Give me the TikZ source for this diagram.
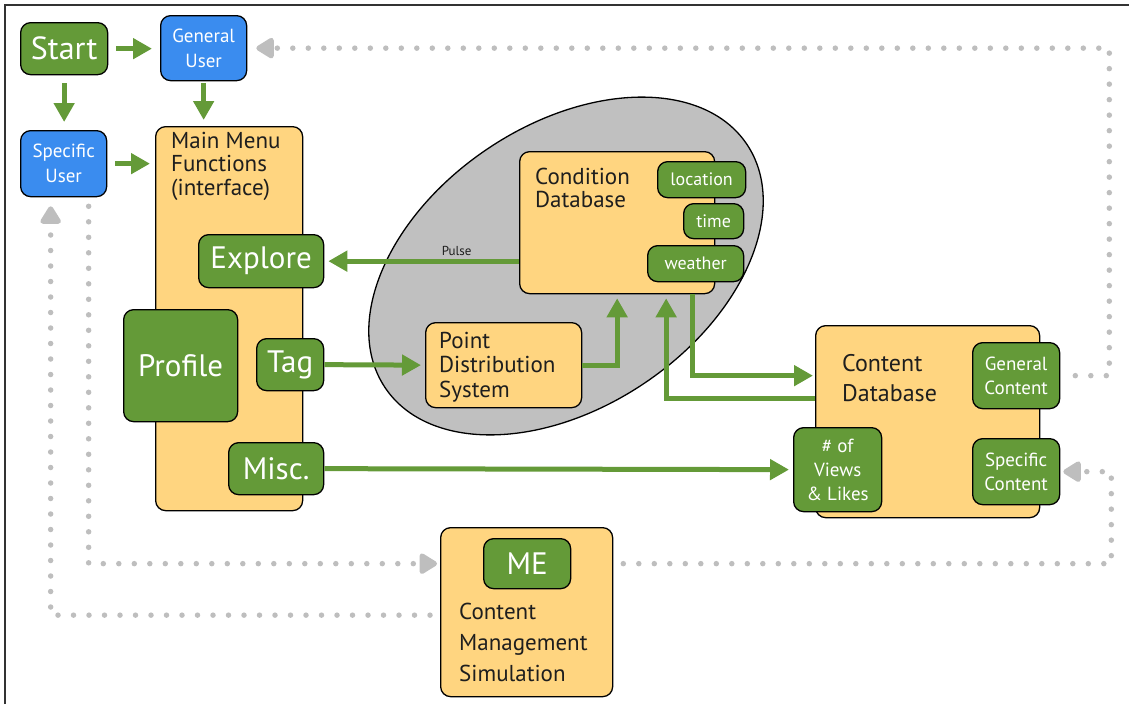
\documentclass[tikz,border=0pt]{standalone}
\usepackage{fontspec}
\setmainfont{PT Sans}
\usetikzlibrary{arrows.meta,shapes.geometric}
\definecolor{leaf}{HTML}{649A38}
\definecolor{sky}{HTML}{3A8CEF}
\definecolor{sand}{HTML}{FFD580}
\definecolor{stone}{HTML}{C0C0C0}
\definecolor{dotgray}{HTML}{BEBEBE}
\definecolor{ink}{HTML}{1E1E1E}
\newcommand\fs[2]{\fontsize{#1}{#2}\selectfont}

\begin{document}
\begin{tikzpicture}[x=1pt,y=-1pt,
    roundbox/.style={draw=black, line width=1.3pt, rounded corners=10pt, inner sep=0pt, anchor=north west},
    greenbox/.style={roundbox, fill=leaf, text=white, align=center},
    bluebox/.style={roundbox, fill=sky, text=white, align=center, font=\fs{19}{25}},
    sandbox/.style={roundbox, fill=sand},
    sandtext/.style={text=ink, inner sep=0pt, anchor=north west, align=left},
    flow/.style={draw=leaf, line width=5pt, shorten >=4pt, -{Triangle[width=20pt,length=19pt]}},
    dotline/.style={draw=dotgray, line width=5.5pt, line cap=round, dash pattern=on 0pt off 15.5pt,
      -{Triangle[width=23pt,length=20pt,round]}}]
  \useasboundingbox (0,0) rectangle (1129,704);
  \draw[black!80, line width=1.5pt] (5,704) -- (5,5) -- (1129,5);

  % nodes
  \node[greenbox, minimum width=87pt, minimum height=52pt, font=\fs{32}{34}] (start) at (20,22) {Start};
  \node[bluebox, minimum width=86pt, minimum height=65pt] (genuser) at (160,15) {General\\User};
  \node[bluebox, minimum width=86pt, minimum height=66pt] (specuser) at (20,130) {Specific\\User};

  \node[sandbox, minimum width=147pt, minimum height=384pt] (main) at (155,126) {};
  \node[sandtext, font=\fs{23}{23.5}] (mainlabel) at (171,132) {Main Menu\\Functions\\(interface)};
  \node[greenbox, minimum width=125pt, minimum height=53pt, font=\fs{31}{33}] (explore) at (198,234) {Explore};
  \node[greenbox, minimum width=114pt, minimum height=112pt, font=\fs{31}{33}] (profile) at (123,309) {Profile};
  \node[greenbox, minimum width=67pt, minimum height=52pt, font=\fs{31}{33}] (tag) at (256,338) {Tag};
  \node[greenbox, minimum width=95pt, minimum height=52pt, font=\fs{31}{33}] (misc) at (228,442) {Misc.};

  \node[ellipse, draw=black, line width=1.3pt, fill=stone, inner sep=0pt,
    minimum width=436pt, minimum height=282pt, rotate=34] (cloud) at (566,266) {};
  \node[sandbox, minimum width=195pt, minimum height=142pt] (cond) at (519,151) {};
  \node[sandtext, font=\fs{23}{23}] (condlabel) at (535,168) {Condition\\Database};
  \node[greenbox, minimum width=88pt, minimum height=36pt, font=\fs{18}{20}] (location) at (657,161) {location};
  \node[greenbox, minimum width=60pt, minimum height=35pt, font=\fs{18}{20}] (time) at (683,203) {time};
  \node[greenbox, minimum width=96pt, minimum height=36pt, font=\fs{18}{20}] (weather) at (647,245) {weather};
  \node[sandbox, minimum width=156pt, minimum height=85pt] (pds) at (425,322) {};
  \node[sandtext, font=\fs{23}{24.5}] (pdslabel) at (439,332) {Point\\Distribution\\System};

  \node[sandbox, minimum width=224pt, minimum height=192pt] (content) at (815,325) {};
  \node[sandtext, font=\fs{24}{30}] (contentlabel) at (842,354) {Content\\Database};
  \node[greenbox, minimum width=87pt, minimum height=66pt, font=\fs{19}{24}] (gencont) at (972,342) {General\\Content};
  \node[greenbox, minimum width=87pt, minimum height=66pt, font=\fs{19}{24}] (speccont) at (972,438) {Specific\\Content};
  \node[greenbox, minimum width=88pt, minimum height=84pt, font=\fs{19}{24}] (views) at (793,427) {\# of\\Views\\\& Likes};

  \node[sandbox, minimum width=172pt, minimum height=169pt] (cms) at (440,527) {};
  \node[greenbox, minimum width=87pt, minimum height=50pt, font=\fs{31}{33}] (me) at (483,538) {ME};
  \node[sandtext, font=\fs{23}{31}] (cmslabel) at (459,603) {Content\\Management\\Simulation};

  % dotted return paths
  \draw[dotline, shorten <=15pt, shorten >=9pt] (gencont.east) -- ++(49,0) |- (genuser.east);
  \draw[dotline, shorten <=10pt, shorten >=3pt] (cms.east |- me.east) -- ++(498,0) |- (speccont.east);
  \draw[dotline, shorten <=9pt, shorten >=3pt] ([xshift=25pt]specuser.south) |- (cms.west |- me.west);
  \draw[dotline, shorten <=10pt, shorten >=9pt] ([yshift=-3pt]cms.west) -| ([xshift=-13pt]specuser.south);

  % green connectors
  \draw[flow, shorten <=8pt, shorten >=8pt] (start.east) -- (start.east -| genuser.west);
  \draw[flow, shorten <=8pt, shorten >=8pt] (start.south) -- (start.south |- specuser.north);
  \draw[flow, shorten <=2pt, shorten >=6pt] (genuser.south) -- (genuser.south |- main.north);
  \draw[flow, shorten <=8pt, shorten >=5pt] (specuser.east) -- (specuser.east -| main.west);
  \draw[flow] (cond.west |- explore.east) -- (explore.east)
    node[pos=0.32, above, text=ink, font=\fs{13}{14}] (pulse) {Pulse};
  \draw[flow] (tag.east) -- (pds.west);
  \draw[flow] (pds.east) -| (cond.south);
  \draw[flow, shorten >=2pt] ([xshift=75pt]cond.south) |- ([yshift=46pt]content.west);
  \draw[flow] ([yshift=23pt]content.west) -| ([xshift=49pt]cond.south);
  \draw[flow] (misc.east) -- (views.west);
\end{tikzpicture}
\end{document}
